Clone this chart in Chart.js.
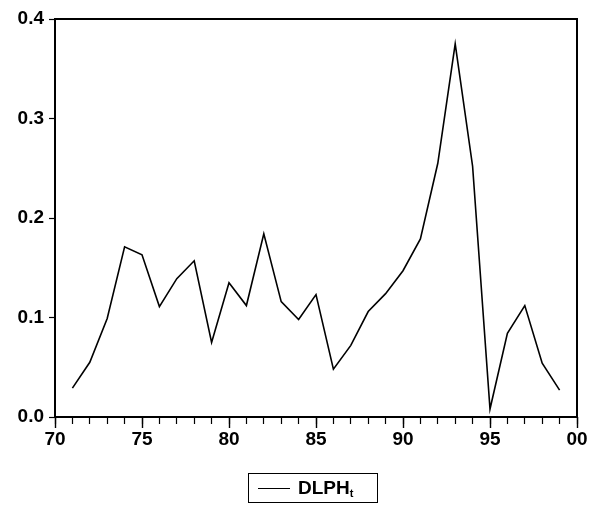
<!DOCTYPE html>
<html>
<head>
<meta charset="utf-8">
<script src="https://cdn.jsdelivr.net/npm/chart.js@4/dist/chart.umd.min.js"></script>
<style>
html, body { margin: 0; padding: 0; background: #fff; }
#wrap { position: relative; width: 593px; height: 508px; }
#legend {
  position: absolute; left: 248px; top: 473px; width: 128px; height: 28px;
  border: 1.5px solid #000; font: bold 19px "Liberation Sans", Arial, sans-serif;
  color: #000; display: flex; align-items: center;
}
#legend .swatch { display: inline-block; width: 32px; height: 0; border-top: 1.5px solid #000; margin: 0 8px 0 9px; }
#legend sub { font-size: 11px; vertical-align: -3px; }
</style>
</head>
<body>
<div id="wrap">
  <canvas id="myChart" width="593" height="508"></canvas>
  <div id="legend"><span class="swatch"></span><span>DLPH<sub>t</sub></span></div>
</div>
<script>
// annual series, 1971 - 1999
const years = [1971, 1972, 1973, 1974, 1975, 1976, 1977, 1978, 1979, 1980,
  1981, 1982, 1983, 1984, 1985, 1986, 1987, 1988, 1989, 1990,
  1991, 1992, 1993, 1994, 1995, 1996, 1997, 1998, 1999];
const dlph = [0.029, 0.055, 0.099, 0.171, 0.163, 0.111, 0.139, 0.157, 0.075, 0.135,
  0.112, 0.184, 0.116, 0.098, 0.123, 0.048, 0.072, 0.106, 0.124, 0.147,
  0.179, 0.255, 0.375, 0.252, 0.008, 0.084, 0.112, 0.054, 0.027];
const xRange = [1970, 2000];
const yTicks = [0.0, 0.1, 0.2, 0.3, 0.4];

const tickFont = { family: '"Liberation Sans", Arial, sans-serif', size: 19, weight: 'bold' };

// frame round the plot area
const frame = {
  id: 'frame',
  afterDraw(chart) {
    const a = chart.chartArea;
    const ctx = chart.ctx;
    ctx.save();
    ctx.strokeStyle = '#000';
    ctx.lineWidth = 2;
    ctx.strokeRect(a.left, a.top, a.right - a.left, a.bottom - a.top);
    ctx.restore();
  }
};

const config = {
  type: 'line',
  data: {
    datasets: [{
      label: 'DLPH',
      xAxisID: 'x',
      data: years.map((y, i) => ({ x: y, y: dlph[i] })),
      borderColor: '#000',
      borderWidth: 1.6,
      pointRadius: 0,
      tension: 0,
      fill: false
    }]
  },
  options: {
    animation: false,
    responsive: false,
    layout: { padding: { left: 0, top: 19, right: 16, bottom: 51 } },
    scales: {
      // yearly minor ticks, no labels, takes no room
      xMinor: {
        type: 'linear',
        position: 'bottom',
        weight: 0,
        min: xRange[0],
        max: xRange[1],
        afterFit: function(scale) { scale.height = 0; },
        grid: { drawOnChartArea: false, drawTicks: true, tickLength: 7, color: '#000', tickWidth: 1.2 },
        border: { display: false },
        ticks: { stepSize: 1, autoSkip: false, display: false }
      },
      x: {
        type: 'linear',
        position: 'bottom',
        weight: 1,
        min: xRange[0],
        max: xRange[1],
        afterFit: function(scale) { scale.height = 40; },
        grid: { drawOnChartArea: false, drawTicks: true, tickLength: 11, color: '#000', tickWidth: 1.4 },
        border: { display: false },
        ticks: {
          stepSize: 5,
          autoSkip: false,
          maxRotation: 0,
          padding: 0,
          color: '#000',
          font: tickFont,
          callback: function(value) {
            return String(value % 100).padStart(2, '0');
          }
        }
      },
      y: {
        min: yTicks[0],
        max: yTicks[yTicks.length - 1],
        afterFit: function(scale) { scale.width = 55; },
        grid: { drawOnChartArea: false, drawTicks: true, tickLength: 6, color: '#000', tickWidth: 1.2 },
        border: { display: false },
        ticks: {
          stepSize: 0.1,
          padding: 5,
          color: '#000',
          font: tickFont,
          callback: function(value) { return value.toFixed(1); }
        }
      }
    },
    plugins: {
      legend: { display: false },
      tooltip: { enabled: false }
    }
  },
  plugins: [frame]
};

new Chart(document.getElementById('myChart'), config);
</script>
</body>
</html>
